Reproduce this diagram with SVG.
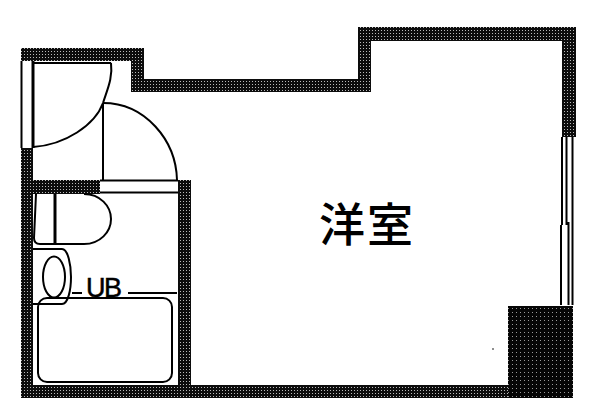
<svg xmlns="http://www.w3.org/2000/svg" width="612" height="419" viewBox="0 0 612 419">
<style>
.w{fill:url(#dots)}
.d{fill:url(#dense)}
.l{fill:none;stroke:#000;stroke-width:2}
.t{stroke-width:3}
text{fill:#000}
</style>
<defs>
<pattern id="dots" width="3" height="3" patternUnits="userSpaceOnUse"><rect width="3" height="3" fill="#0c0c0c"/><rect width="1" height="1" fill="#bbb"/></pattern>
<pattern id="dense" width="4" height="4" patternUnits="userSpaceOnUse"><rect width="4" height="4" fill="#050505"/><rect width="1" height="1" fill="#999"/></pattern>
</defs>
<rect width="612" height="419" fill="#fff"/>
<g id="walls">
<path class="w" d="M21 48H144V79H358V27H576V137H562V41H371V92H131V61H21Z"/>
<path class="w" d="M21 148H33V180H100V194H33V385H178V180H191V385H508V306H573V398H21Z"/>
<rect class="d" x="508" y="306" width="65" height="92"/>
</g>
<g id="left-window">
<path class="l" d="M21.500 61V148" stroke-width="1"/>
<path class="l t" d="M33 61V148"/>
<path class="l" d="M34 63H111"/>
</g>
<g id="right-window">
<path class="l" d="M562 137V225M561 225V305"/>
<path class="l" d="M566.500 137V225M568.500 222V305"/>
<path class="l" d="M572.500 137V305"/>
</g>
<g id="doors">
<path class="l" d="M33 147C65 145 95 125 103 103C107 90 113 78 111 63"/>
<path class="l" d="M103 103V180"/>
<path class="l" d="M103 103C145 103 176 140 177 180"/>
<path class="l" d="M100 180.500H178M100 192.500H178"/>
</g>
<g id="toilet">
<path class="l" d="M36 194L34 238Q34 244 40 244H84C100 244 111 232 111 219C111 206 100 194 84 194"/>
<path class="l t" d="M55 194V244"/>
</g>
<g id="sink">
<path class="l" d="M33 249H62C68 249 71 265 71 277C71 290 68 304 62 304H33"/>
<ellipse class="l" cx="54" cy="277" rx="11" ry="20.500"/>
</g>
<g id="bath">
<path class="l" d="M72 293H82M128 293H177"/>
<rect class="l" x="38" y="298" width="134" height="84" rx="9"/>
<text x="86" y="297" font-family="'Liberation Sans',sans-serif" font-size="27" stroke="#000" stroke-width="0.500" textLength="36">UB</text>
</g>
<g id="room-label">
<text x="319" y="241" font-family="'Liberation Sans','Noto Sans CJK JP',sans-serif" font-size="46" letter-spacing="2" font-weight="500">洋室</text>
</g>
<circle cx="493" cy="349" r="0.800" fill="#000"/>
</svg>
